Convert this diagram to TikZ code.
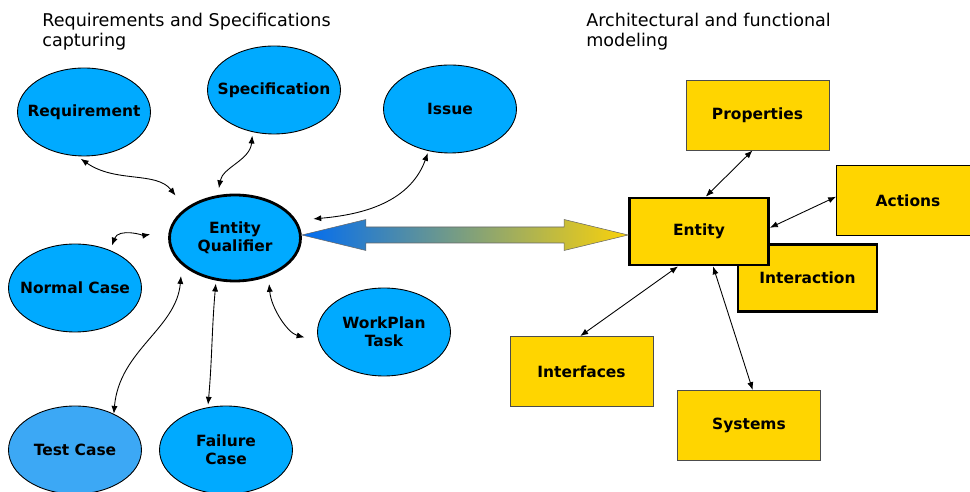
\documentclass[tikz,border=0pt]{standalone}
\usepackage{fontspec}
\setmainfont{DejaVu Sans}
\usetikzlibrary{shapes.geometric,arrows.meta,calc}

\definecolor{blobblue}{HTML}{00AAFF}
\definecolor{testblue}{HTML}{3CA8F5}
\definecolor{boxgold}{HTML}{FFD500}
\definecolor{arrowblue}{HTML}{006CF2}
\definecolor{arrowgold}{HTML}{FAD20A}
\newcommand\labfont{\fontsize{8.8}{10.3}\selectfont\bfseries}

\begin{document}
\begin{tikzpicture}[x=0.02cm, y=-0.02cm, >={Latex[length=4.5pt,width=3.5pt]},
  blob/.style={ellipse, draw, line width=0.5pt, fill=blobblue, minimum width=2.66cm, minimum height=1.76cm, inner sep=0pt},
  qual/.style={blob, line width=1.6pt, minimum width=2.62cm, minimum height=1.72cm},
  every label/.style={font=\labfont, align=center},
  box/.style={rectangle, draw=black!70, line width=0.5pt, fill=boxgold, minimum width=2.86cm, minimum height=1.4cm, font=\labfont},
  heavybox/.style={box, draw=black, line width=1.6pt, minimum width=2.78cm, minimum height=1.34cm},
  link/.style={<->, line width=0.5pt},
  title/.style={font=\fontsize{10}{11.4}\selectfont, align=left, inner sep=0pt}]
\useasboundingbox (0,0) rectangle (970,492);

\node[title, anchor=north west] (lefttitle) at (42,12.5) {Requirements and Specifications\\capturing};
\node[title, anchor=north west] (righttitle) at (586,12.5) {Architectural and functional\\modeling};

\node[blob, label=center:Requirement] (req) at (84,112) {};
\node[blob, label=center:Specification] (spec) at (274,90) {};
\node[blob, label=center:Issue] (issue) at (450,109) {};
\node[qual, label={center:Entity\\Qualifier}] (qual) at (235,238) {};
\node[blob, label=center:Normal Case] (normal) at (75,288) {};
\node[blob, label={center:WorkPlan\\Task}] (wplan) at (384,332) {};
\node[blob, fill=testblue, label=center:Test Case] (test) at (75,450) {};
\node[blob, label={center:Failure\\Case}] (fail) at (226,450) {};

\node[heavybox] (inter) at (807.5,278) {Interaction};
\node[heavybox] (ent) at (699,231.5) {Entity};
\node[box] (prop) at (757.5,115) {Properties};
\node[box, draw=black] (act) at (908,200.5) {Actions};
\node[box] (intf) at (581.5,371.5) {Interfaces};
\node[box] (sys) at (749,425.5) {Systems};

\draw[link, shorten <=0.09cm, shorten >=0.32cm] (req.-99) to[out=-35, in=128] (qual.149);
\draw[link, shorten <=0.07cm, shorten >=0.14cm] (spec.-117) to[out=-95, in=80] (qual.112);
\draw[link, shorten <=0.04cm, shorten >=0.34cm] (issue.-117) to[out=-110, in=5] (qual.16);
\draw[link, shorten <=0.1cm, shorten >=0.38cm] (normal.47) to[out=70, in=190] (qual.174);
\draw[link, shorten >=0.22cm] (test.43) to[out=85, in=-95] (qual.-153);
\draw[link, shorten <=0.05cm, shorten >=0.06cm] (fail.113) to[out=85, in=-95] (qual.-114);
\draw[link, shorten <=0.29cm, shorten >=0.15cm] (wplan.-172) to[out=165, in=-85] (qual.-49);

\draw[link] (prop.-98) -- (ent.79);
\draw[link] (act.177) -- (ent.3);
\draw[link] (intf.92) -- (ent.-121);
\draw[link] (sys.84) -- (ent.-68);

\path (qual.east) ++(0,-3) coordinate (bl);
\path (ent.west |- bl) coordinate (br);
\shade[draw=black!60, line width=0.3pt, left color=arrowblue, right color=arrowgold]
  (bl) -- ++(64,-15.5) -- ++(0,7.5) -- ($(br)+(-64,-8)$) -- ++(0,-7.5) -- (br)
  -- ++(-64,15.5) -- ++(0,-7.5) -- ($(bl)+(64,8)$) -- ++(0,7.5) -- cycle;
\end{tikzpicture}
\end{document}
